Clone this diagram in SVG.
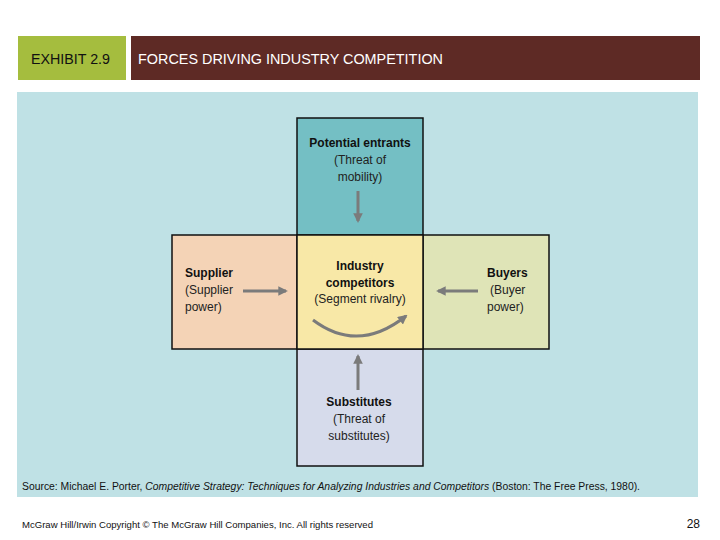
<svg xmlns="http://www.w3.org/2000/svg" width="720" height="540" viewBox="0 0 720 540">
<style>
  text { font-family: "Liberation Sans", Arial, sans-serif; fill: #111; }
  .b { font-weight: bold; font-size: 12px; }
  .n { font-size: 12px; fill: #222; }
  .box { stroke: #111; stroke-width: 1.5; }
  .arr { stroke: #7b7b7b; stroke-width: 3; fill: none; marker-end: url(#ah); }
</style>
<defs>
  <marker id="ah" viewBox="0 0 10 10" refX="8" refY="5" markerWidth="3.2" markerHeight="3.2" orient="auto" markerUnits="strokeWidth">
    <path d="M0,0 L10,5 L0,10 z" fill="#7b7b7b"/>
  </marker>
</defs>
<rect width="720" height="540" fill="#ffffff"/>
<g id="header">
  <rect x="18" y="36" width="108" height="44" fill="#a5bd3e"/>
  <text x="31" y="64" font-size="15.5" textLength="79" lengthAdjust="spacingAndGlyphs">EXHIBIT 2.9</text>
  <rect x="131" y="36" width="569" height="44" fill="#5e2a25"/>
  <text x="138" y="64" font-size="15.5" style="fill:#ffffff" textLength="305" lengthAdjust="spacingAndGlyphs">FORCES DRIVING INDUSTRY COMPETITION</text>
</g>
<rect id="panel" x="17" y="92" width="681" height="405" fill="#bfe1e5"/>
<g id="potential">
  <rect class="box" x="297" y="118" width="126" height="117" fill="#74bfc4"/>
  <text class="b" x="360" y="147" text-anchor="middle">Potential entrants</text>
  <text class="n" x="360" y="164" text-anchor="middle">(Threat of</text>
  <text class="n" x="360" y="181" text-anchor="middle">mobility)</text>
</g>
<g id="supplier">
  <rect class="box" x="172" y="235" width="125" height="114" fill="#f4d3b6"/>
  <text class="b" x="185" y="277">Supplier</text>
  <text class="n" x="185" y="294">(Supplier</text>
  <text class="n" x="185" y="311">power)</text>
</g>
<g id="buyers">
  <rect class="box" x="423" y="235" width="126" height="114" fill="#dfe4b7"/>
  <text class="b" x="487" y="277">Buyers</text>
  <text class="n" x="490" y="294">(Buyer</text>
  <text class="n" x="487" y="311">power)</text>
</g>
<g id="substitutes">
  <rect class="box" x="297" y="349" width="126" height="117" fill="#d6dbeb"/>
  <text class="b" x="359" y="406" text-anchor="middle">Substitutes</text>
  <text class="n" x="359" y="423" text-anchor="middle">(Threat of</text>
  <text class="n" x="359" y="440" text-anchor="middle">substitutes)</text>
</g>
<g id="industry">
  <rect class="box" x="297" y="235" width="126" height="114" fill="#f8e8a7"/>
  <text class="b" x="360" y="270" text-anchor="middle">Industry</text>
  <text class="b" x="360" y="287" text-anchor="middle">competitors</text>
  <text class="n" x="360" y="303" text-anchor="middle">(Segment rivalry)</text>
</g>
<g id="connectors">
  <line class="arr" x1="358" y1="191" x2="358" y2="221"/>
  <line class="arr" x1="243" y1="291" x2="286" y2="291"/>
  <line class="arr" x1="478" y1="291" x2="438" y2="291"/>
  <line class="arr" x1="358" y1="390" x2="358" y2="356"/>
  <path class="arr" d="M313,320 Q358,354 406,316"/>
</g>
<g id="source">
  <text x="22" y="490" font-size="10" fill="#222" textLength="618" lengthAdjust="spacingAndGlyphs">Source: Michael E. Porter, <tspan font-style="italic">Competitive Strategy: Techniques for Analyzing Industries and Competitors</tspan> (Boston: The Free Press, 1980).</text>
</g>
<g id="footer">
  <text x="22" y="528" font-size="9.5" fill="#222" textLength="351" lengthAdjust="spacingAndGlyphs">McGraw Hill/Irwin  Copyright © The McGraw Hill Companies, Inc.  All rights reserved</text>
  <text x="700" y="528" font-size="12" fill="#333" text-anchor="end">28</text>
</g>
</svg>
